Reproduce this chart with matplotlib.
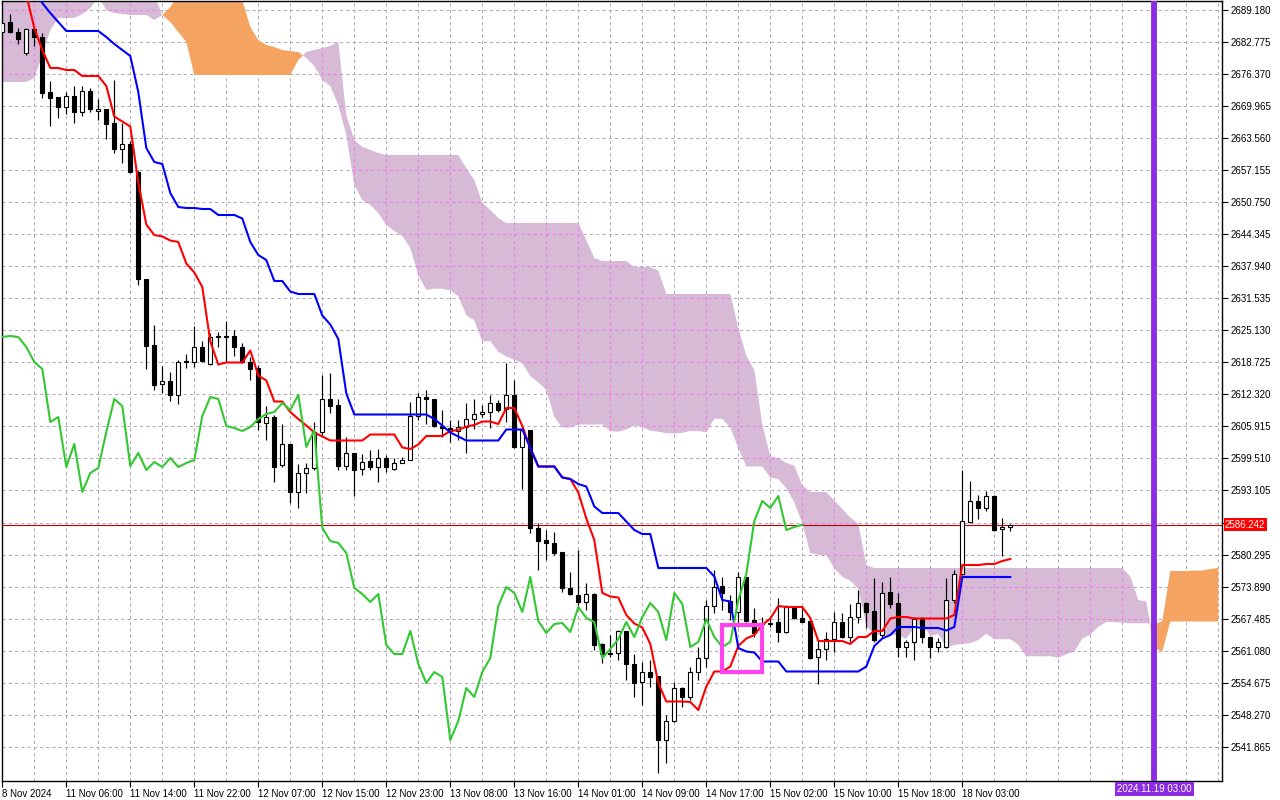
import matplotlib
matplotlib.use("Agg")
import matplotlib.pyplot as plt
import matplotlib.transforms as mtransforms
from matplotlib.patches import Rectangle, PathPatch
from matplotlib.path import Path
import numpy as np

# ---------------- data (XAUUSD H1, Ichimoku 9/26/52) ----------------
opens = [2684.8, 2686.8, 2684.8, 2680.6, 2685.4, 2683.8, 2672.8, 2671.8, 2669.8, 2672.0,
         2668.8, 2673.0, 2669.0, 2669.4, 2666.6, 2661.4, 2662.4, 2656.8, 2635.4, 2622.2,
         2614.4, 2615.0, 2612.2, 2619.0, 2618.8, 2621.8, 2618.4, 2623.8, 2624.0, 2624.0,
         2621.8, 2618.8, 2617.6, 2606.6, 2607.8, 2598.2, 2602.4, 2592.8, 2596.6, 2597.6,
         2604.8, 2611.4, 2610.2, 2598.0, 2600.6, 2597.4, 2599.0, 2597.8, 2599.6, 2597.4,
         2598.6, 2599.2, 2608.0, 2611.8, 2611.4, 2606.0, 2605.6, 2605.0, 2605.8, 2607.4,
         2608.4, 2608.8, 2610.6, 2609.4, 2612.2, 2601.8, 2605.2, 2585.6, 2583.2, 2582.6,
         2580.8, 2573.6, 2572.2, 2570.8, 2572.4, 2562.4, 2560.6, 2560.6, 2565.0, 2558.4,
         2554.8, 2556.8, 2556.0, 2543.2, 2547.0, 2553.6, 2551.8, 2556.8, 2559.6, 2570.0,
         2574.0, 2571.0, 2568.8, 2575.8, 2567.2, 2566.6, 2566.4, 2566.8, 2564.8, 2569.8,
         2567.6, 2567.0, 2559.8, 2561.4, 2563.4, 2566.8, 2563.8, 2567.8, 2570.6, 2569.0,
         2564.2, 2572.8, 2570.6, 2561.8, 2562.8, 2567.4, 2563.8, 2561.8, 2561.8, 2571.2,
         2576.4, 2586.8, 2591.0, 2589.6, 2592.0, 2585.4, 2585.8]
highs = [2687.2, 2688.4, 2685.6, 2685.6, 2686.0, 2684.6, 2675.0, 2671.8, 2672.8, 2674.0,
         2674.0, 2673.6, 2671.4, 2669.4, 2675.2, 2666.6, 2663.0, 2657.2, 2635.4, 2626.2,
         2618.0, 2616.8, 2619.2, 2620.4, 2626.0, 2623.0, 2624.6, 2624.8, 2627.0, 2625.2,
         2622.6, 2619.8, 2618.2, 2610.0, 2608.2, 2606.4, 2602.4, 2598.4, 2598.6, 2606.8,
         2616.2, 2616.6, 2611.4, 2603.8, 2600.6, 2600.4, 2601.2, 2601.4, 2600.2, 2599.6,
         2599.8, 2610.8, 2612.6, 2613.2, 2611.4, 2609.2, 2607.2, 2607.2, 2610.6, 2611.4,
         2610.2, 2612.2, 2611.2, 2618.6, 2615.2, 2605.8, 2605.2, 2586.6, 2585.2, 2584.8,
         2580.8, 2576.8, 2581.2, 2574.6, 2572.6, 2562.6, 2564.2, 2565.2, 2565.0, 2560.4,
         2558.8, 2559.2, 2556.0, 2548.2, 2554.8, 2553.8, 2557.8, 2561.8, 2571.2, 2577.2,
         2575.8, 2572.2, 2576.8, 2575.8, 2569.6, 2567.8, 2567.6, 2571.6, 2570.2, 2569.8,
         2569.8, 2567.2, 2563.2, 2564.8, 2568.8, 2568.6, 2570.4, 2573.2, 2570.8, 2575.6,
         2574.8, 2575.8, 2572.6, 2563.2, 2567.8, 2567.8, 2563.8, 2563.6, 2575.6, 2577.2,
         2597.2, 2595.0, 2592.2, 2593.0, 2592.2, 2587.6, 2586.4]
lows = [2684.4, 2684.6, 2682.4, 2680.2, 2682.0, 2671.6, 2666.0, 2667.6, 2668.4, 2666.6,
        2668.0, 2668.8, 2667.2, 2663.4, 2660.6, 2658.6, 2656.6, 2634.2, 2617.4, 2613.2,
        2612.6, 2611.0, 2610.4, 2617.6, 2617.8, 2618.8, 2618.2, 2621.8, 2618.8, 2620.0,
        2618.6, 2615.2, 2605.2, 2603.2, 2594.8, 2597.8, 2590.6, 2589.6, 2592.6, 2597.2,
        2604.2, 2608.6, 2597.2, 2597.2, 2592.0, 2596.2, 2597.2, 2594.8, 2596.8, 2597.2,
        2598.6, 2599.2, 2607.2, 2606.4, 2605.8, 2603.8, 2602.8, 2603.2, 2600.6, 2605.4,
        2607.8, 2605.6, 2608.8, 2606.8, 2601.6, 2593.4, 2584.6, 2577.2, 2579.2, 2580.2,
        2572.8, 2572.2, 2570.2, 2569.2, 2561.2, 2558.6, 2559.8, 2559.2, 2555.2, 2551.8,
        2550.2, 2553.8, 2536.6, 2538.6, 2546.8, 2549.8, 2551.2, 2555.2, 2557.8, 2568.6,
        2569.2, 2567.2, 2565.8, 2566.8, 2563.8, 2565.8, 2565.8, 2562.8, 2564.6, 2567.4,
        2566.8, 2559.4, 2554.4, 2559.2, 2560.8, 2563.6, 2562.8, 2566.6, 2565.6, 2562.8,
        2563.6, 2569.6, 2559.8, 2559.8, 2559.2, 2562.6, 2559.6, 2560.8, 2561.6, 2570.6,
        2576.2, 2586.6, 2587.4, 2589.0, 2585.0, 2580.0, 2585.0]
closes = [2686.6, 2684.8, 2683.4, 2685.4, 2683.8, 2672.6, 2671.6, 2669.8, 2672.0, 2668.8,
          2673.0, 2669.4, 2669.4, 2666.4, 2661.4, 2662.4, 2656.8, 2635.4, 2622.0, 2614.2,
          2615.0, 2612.2, 2618.8, 2618.8, 2621.8, 2619.0, 2623.8, 2624.0, 2623.8, 2621.8,
          2618.8, 2617.4, 2606.8, 2607.8, 2597.8, 2602.4, 2592.8, 2596.6, 2597.6, 2604.8,
          2611.4, 2610.0, 2598.0, 2600.6, 2597.2, 2598.8, 2597.8, 2599.6, 2597.8, 2598.6,
          2599.2, 2608.0, 2611.8, 2611.4, 2606.0, 2605.6, 2605.0, 2605.8, 2607.4, 2608.4,
          2608.8, 2610.6, 2609.2, 2612.2, 2601.8, 2605.2, 2585.6, 2583.0, 2582.6, 2580.6,
          2573.6, 2572.4, 2570.8, 2572.4, 2562.2, 2560.4, 2560.4, 2565.0, 2558.4, 2554.6,
          2556.8, 2555.8, 2543.2, 2547.0, 2553.6, 2551.8, 2556.8, 2559.6, 2570.0, 2573.8,
          2572.6, 2568.8, 2575.8, 2567.0, 2564.6, 2566.4, 2566.6, 2564.8, 2569.8, 2567.6,
          2566.8, 2559.6, 2561.4, 2563.4, 2566.8, 2563.8, 2567.8, 2570.6, 2568.8, 2563.2,
          2572.6, 2570.4, 2561.8, 2562.8, 2567.4, 2563.8, 2561.8, 2562.8, 2571.2, 2576.4,
          2587.0, 2591.0, 2589.6, 2592.0, 2585.2, 2585.8, 2586.242]

# indicator values for the first bars (history before the visible window)
tenkan_pre = [2697.2, 2697.2, 2697.2, 2692.2, 2685.6, 2681.2, 2677.6, 2677.6]
kijun_pre = [2697.0, 2697.0, 2697.0, 2695.2, 2692.8, 2690.6, 2688.6, 2686.8, 2685.0, 2685.0,
             2685.0, 2685.0, 2685.0, 2683.8, 2682.4, 2681.2, 2680.0, 2672.8, 2661.6, 2658.8,
             2658.4, 2652.6, 2649.8, 2649.6, 2649.6]
senkou_a_pre = [2674.8, 2674.8, 2674.8, 2674.8, 2675.6, 2680.2, 2685.2, 2687.6, 2687.6, 2687.6,
                2688.4, 2689.6, 2691.8, 2689.2, 2688.6, 2688.4, 2688.2, 2688.2, 2688.2, 2687.2,
                2688.2, 2689.8, 2692.2, 2694.2, 2694.2, 2694.2, 2694.2, 2694.2, 2694.2, 2694.2,
                2691.2, 2685.8, 2683.2, 2682.2, 2681.8, 2681.2, 2681.0, 2680.8, 2679.6, 2678.0,
                2675.2, 2674.0, 2670.2, 2664.2, 2654.2, 2651.2, 2650.2, 2648.6, 2646.2, 2645.0,
                2644.0]
senkou_b_pre = ([2696.0] * 19
                + [2692.2, 2688.2, 2686.8, 2684.8, 2682.8, 2676.2]
                + [2676.2] * 12
                + [2679.2, 2680.8, 2681.2, 2681.6, 2682.0, 2682.8, 2668.2, 2663.2]
                + [2661.8, 2661.2, 2660.6]
                + [2660.2] * 10
                + [2657.6, 2655.2, 2650.6, 2649.2, 2647.6]
                + [2646.6] * 10
                + [2643.2, 2639.6, 2639.0, 2639.0])

time_label_bars = [0, 8, 16, 24, 32, 40, 48, 56, 64, 72, 80, 88, 96, 104, 112, 120]
time_labels = ["8 Nov 2024", "11 Nov 06:00", "11 Nov 14:00", "11 Nov 22:00", "12 Nov 07:00",
               "12 Nov 15:00", "12 Nov 23:00", "13 Nov 08:00", "13 Nov 16:00", "14 Nov 01:00",
               "14 Nov 09:00", "14 Nov 17:00", "15 Nov 02:00", "15 Nov 10:00", "15 Nov 18:00",
               "18 Nov 03:00"]
price_levels = [2541.865, 2548.270, 2554.675, 2561.080, 2567.485, 2573.890, 2580.295, 2586.700,
                2593.105, 2599.510, 2605.915, 2612.320, 2618.725, 2625.130, 2631.535, 2637.940,
                2644.345, 2650.750, 2657.155, 2663.560, 2669.965, 2676.370, 2682.775, 2689.180]
current_price = 2586.242
vline_bar = 144
vline_label = "2024.11.19 03:00"
box_bars = (90, 95)
box_prices = (2556.8, 2566.2)
shift = 26

# ---------------- Ichimoku ----------------
o = np.array(opens); h = np.array(highs); l = np.array(lows); c = np.array(closes)
n = len(c)
total = n + shift

def mid(k, period):
    return (h[k - period + 1:k + 1].max() + l[k - period + 1:k + 1].min()) / 2

tenkan = np.array([tenkan_pre[k] if k < 8 else mid(k, 9) for k in range(n)])
kijun = np.array([kijun_pre[k] if k < 25 else mid(k, 26) for k in range(n)])
span_a = np.array([senkou_a_pre[k] if k < 51 else (tenkan[k - shift] + kijun[k - shift]) / 2
                   for k in range(total)])
span_b = np.array([senkou_b_pre[k] if k < 77 else mid(k - shift, 52) for k in range(total)])
chikou = c[shift:]

# ---------------- figure ----------------
fig = plt.figure(figsize=(12.8, 8), dpi=100)
ax = fig.add_axes([2 / 1280, 1 - 781 / 800, 1220 / 1280, 780 / 800])
ax.set_xlim(-0.0375, 152.46)
ax.set_ylim(2535.0, 2691.0)

grid_kw = dict(color="#b4a9b6", lw=0.75, ls=(0, (3, 3)), zorder=0.5)
for p in price_levels:
    ax.axhline(p, **grid_kw)
for gx in range(4, total + 1, 4):
    ax.axvline(gx, **grid_kw)

xs_cloud = np.arange(total)
ax.fill_between(xs_cloud, span_a, span_b, where=span_a >= span_b, interpolate=True,
                color="#f4a460", lw=0, zorder=1)
down = ax.fill_between(xs_cloud, span_a, span_b, where=span_a < span_b, interpolate=True,
                       color="#d6bad6", lw=0, zorder=1)

# grid seen through the down-cloud (pinkish in the original)
clip = PathPatch(Path.make_compound_path(*down.get_paths()), transform=ax.transData,
                 facecolor="none", edgecolor="none")
ax.add_patch(clip)
pink_kw = dict(color="#f27cf2", lw=0.75, ls=(0, (3, 3)), zorder=1.1)
for p in price_levels:
    ln = ax.axhline(p, **pink_kw); ln.set_clip_path(clip)
for gx in range(4, total + 1, 4):
    ln = ax.axvline(gx, **pink_kw); ln.set_clip_path(clip)

ax.axhline(current_price, color="#c00000", lw=0.8, zorder=1.5)

xs = np.arange(n)
ax.vlines(xs, l, h, color="black", lw=0.85, zorder=2.9)
bull = c >= o
body_h = np.abs(c - o)
body_h = np.where(body_h < 0.15, 0.15, body_h)
ax.bar(xs[bull], body_h[bull], bottom=np.minimum(o, c)[bull], width=0.52,
       color="white", edgecolor="black", linewidth=0.8, zorder=3)
ax.bar(xs[~bull], body_h[~bull], bottom=np.minimum(o, c)[~bull], width=0.52,
       color="black", edgecolor="black", linewidth=0.8, zorder=3)

ax.plot(xs, tenkan, color="#ff0000", lw=1.5, zorder=4)
ax.plot(xs, kijun, color="#0000ff", lw=1.5, zorder=4)
ax.plot(np.arange(len(chikou)), chikou, color="#32c832", lw=1.5, zorder=4)

ax.add_patch(Rectangle((box_bars[0], box_prices[0]), box_bars[1] - box_bars[0],
                       box_prices[1] - box_prices[0], fill=False,
                       edgecolor="#ff44ee", lw=3, zorder=5))
ax.axvline(vline_bar, color="#8a2be2", lw=4.2, zorder=5)

# axes styling
for s in ax.spines.values():
    s.set_color("black"); s.set_linewidth(1)
ax.yaxis.tick_right()
ax.set_yticks(price_levels)
ax.set_yticklabels(["" if abs(p - 2586.7) < 1e-6 else f"{p:.3f}" for p in price_levels])
ax.tick_params(axis="y", direction="out", length=4, width=0.8, pad=2, labelsize=7)
ax.set_xticks(time_label_bars)
ax.set_xticklabels(time_labels, ha="left")
ax.tick_params(axis="x", direction="out", length=4, width=0.8, pad=1.5, labelsize=7)
for t in ax.get_xticklabels() + ax.get_yticklabels():
    t.set_fontfamily("Liberation Sans")

trans_y = mtransforms.blended_transform_factory(ax.transAxes, ax.transData)
ax.text(1.0025, current_price, f"{current_price:.3f}", transform=trans_y, color="white",
        fontsize=7, family="Liberation Sans", va="center", ha="left",
        bbox=dict(boxstyle="square,pad=0.15", fc="#ff0000", ec="none"), clip_on=False)
trans_x = mtransforms.blended_transform_factory(ax.transData, ax.transAxes)
ax.text(vline_bar, -0.0105, vline_label, transform=trans_x, color="white", fontsize=7,
        family="Liberation Sans", va="center", ha="center",
        bbox=dict(boxstyle="square,pad=0.2", fc="#8a2be2", ec="none"), clip_on=False)

fig.savefig("out.png", dpi=100)
